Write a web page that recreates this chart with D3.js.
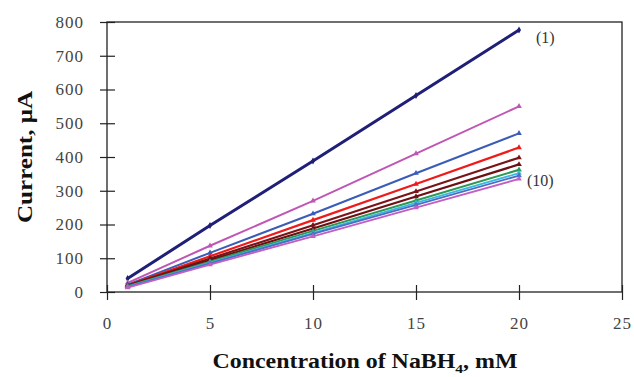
<!DOCTYPE html>
<html lang="en">
<head>
    <meta charset="UTF-8">
    <title>Current vs NaBH4</title>
    <script src="https://d3js.org/d3.v7.min.js"></script>
    <style>
        body { margin: 0; background: #fff; font-family: 'Liberation Serif', 'Times New Roman', serif; }
    </style>
</head>
<body>
    <svg id="chart" width="634" height="377"></svg>
    <script>
        // concentrations (mM)
        const conc = [1, 5, 10, 15, 20];
        // current (uA) for each curve, (1) at top ... (10) at bottom
        const s1 = [40, 197, 388, 582, 776];
        const s2 = [27, 137, 270, 410, 550];
        const s3 = [22, 116, 232, 352, 470];
        const s4 = [20, 106, 213, 320, 428];
        const s5 = [19, 99, 198, 298, 398];
        const s6 = [18, 94, 188, 283, 378];
        const s7 = [17, 90, 181, 271, 362];
        const s8 = [16, 87, 175, 264, 352];
        const s9 = [15, 85, 172, 258, 345];
        const s10 = [13, 81, 165, 250, 335];
        const series = [s1, s2, s3, s4, s5, s6, s7, s8, s9, s10];
        const colors = ["#1f1f78", "#c055b5", "#3a5cb8", "#f01a1a", "#7a1418",
                        "#6e0f14", "#2a9a55", "#3cb8e0", "#4a6ec4", "#c25ec4"];
        const widths = [3, 2, 2, 2.2, 2.2, 2.2, 2, 1.8, 1.8, 1.8];
        const xTicks = [0, 5, 10, 15, 20, 25];
        const yTicks = [0, 100, 200, 300, 400, 500, 600, 700, 800];

        const svg = d3.select("#chart");
        const m = { left: 107, right: 622, top: 22, bottom: 292 };
        const serif = "'Liberation Serif', 'Times New Roman', serif";

        const x = d3.scaleLinear().domain([0, 25]).range([m.left, m.right]);
        const y = d3.scaleLinear().domain([0, 800]).range([m.bottom, m.top]);

        // frame
        svg.append("rect")
            .attr("x", m.left).attr("y", m.top)
            .attr("width", m.right - m.left).attr("height", m.bottom - m.top)
            .attr("fill", "none").attr("stroke", "#222").attr("stroke-width", 1.3);

        const xAxis = svg.append("g")
            .attr("transform", `translate(0,${m.bottom})`)
            .call(d3.axisBottom(x).tickValues(xTicks).tickSize(0).tickPadding(25))
            .attr("font-family", serif).attr("font-size", 17);
        xAxis.select(".domain").remove();
        xAxis.selectAll(".tick text").attr("fill", "#444").attr("letter-spacing", 1);
        xAxis.selectAll(".tick").append("line")
            .attr("y1", -7).attr("y2", 8).attr("stroke", "#222").attr("stroke-width", 1.2);

        const yAxis = svg.append("g")
            .attr("transform", `translate(${m.left},0)`)
            .call(d3.axisLeft(y).tickValues(yTicks).tickSize(0).tickPadding(23))
            .attr("font-family", serif).attr("font-size", 17);
        yAxis.select(".domain").remove();
        yAxis.selectAll(".tick text").attr("fill", "#444").attr("letter-spacing", 1);
        yAxis.selectAll(".tick").append("line")
            .attr("x1", -7).attr("x2", 8).attr("stroke", "#222").attr("stroke-width", 1.2);

        const line = d3.line().x((d, i) => x(conc[i])).y(d => y(d));

        series.forEach((s, k) => {
            svg.append("path")
                .datum(s)
                .attr("d", line)
                .attr("fill", "none")
                .attr("stroke", colors[k])
                .attr("stroke-width", widths[k]);
            svg.append("g").selectAll("path")
                .data(s)
                .join("path")
                .attr("transform", (d, i) => `translate(${x(conc[i])},${y(d)})`)
                .attr("d", d3.symbol().type(k === 0 ? d3.symbolDiamond : d3.symbolTriangle).size(14))
                .attr("fill", colors[k]);
        });

        // curve labels
        svg.append("text").attr("x", x(20) + 17).attr("y", y(s1[4]) + 13)
            .attr("font-size", 16).attr("fill", "#333").text("(1)");
        svg.append("text").attr("x", x(20) + 8).attr("y", y(s8[4]) + 13)
            .attr("font-size", 16).attr("fill", "#333").text("(10)");

        // axis titles
        svg.append("text")
            .attr("transform", `translate(32,${(m.top + m.bottom) / 2}) rotate(-90)`)
            .attr("text-anchor", "middle")
            .attr("font-size", 20).attr("font-weight", "bold").attr("fill", "#111")
            .attr("textLength", 132).attr("lengthAdjust", "spacingAndGlyphs")
            .text("Current, μA");

        const xt = svg.append("text")
            .attr("x", 365).attr("y", 368)
            .attr("text-anchor", "middle")
            .attr("font-size", 20).attr("font-weight", "bold").attr("fill", "#111")
            .attr("textLength", 305).attr("lengthAdjust", "spacingAndGlyphs");
        xt.append("tspan").text("Concentration of NaBH");
        xt.append("tspan").attr("font-size", 13).attr("dy", 5).text("4");
        xt.append("tspan").attr("dy", -5).text(", mM");
    </script>
</body>
</html>
